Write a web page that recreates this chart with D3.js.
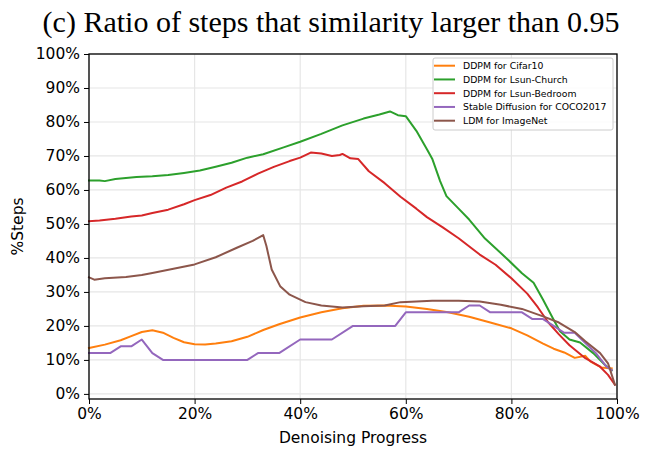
<!DOCTYPE html>
<html><head><meta charset="utf-8">
<script src="https://cdn.jsdelivr.net/npm/d3@7"></script>
<style>
body{margin:0;background:#fff;}
svg{display:block;}
</style></head>
<body>
<svg id="chart" width="648" height="460"></svg>
<script>
const titleText = "(c) Ratio of steps that similarity larger than 0.95";
const xLabel = "Denoising Progress";
const yLabel = "%Steps";
const xTicks = [0, 20, 40, 60, 80, 100];
const yTicks = [0, 10, 20, 30, 40, 50, 60, 70, 80, 90, 100];
const seriesNames = ["DDPM for Cifar10", "DDPM for Lsun-Church", "DDPM for Lsun-Bedroom", "Stable Diffusion for COCO2017", "LDM for ImageNet"];
const seriesColors = ["#ff7f0e", "#2ca02c", "#d62728", "#9467bd", "#8c564b"];

// [progress %, steps %]
const cifar10 = [[0,13.5],[3,14.5],[6,15.8],[8,17],[10,18.2],[12,18.7],[14,18],[16,16.5],[18,15.2],[20,14.6],[22,14.5],[24,14.8],[27,15.5],[30,16.8],[33,18.8],[36,20.5],[40,22.5],[44,24],[48,25.2],[52,25.9],[56,26],[60,25.7],[64,25],[68,24],[72,22.7],[76,21],[80,19.3],[83,17.2],[86,14.8],[88,13.3],[90,12.2],[92,10.6],[94,11.2],[95,9.5],[97,7.8],[99,7.5]];
const church = [[0,62.8],[2,62.8],[3,62.6],[5,63.2],[9,63.8],[12,64],[15,64.4],[18,65],[21,65.7],[24,66.8],[27,68],[30,69.5],[33,70.5],[37,72.6],[40,74.2],[44,76.5],[48,79],[52,81],[55,82.2],[57,83.1],[58.5,82],[60,81.7],[62,77.4],[64,72],[65,69.2],[66.5,62.6],[67.7,58.2],[70,54.5],[72,51.3],[75,45.7],[79,40],[82,35.5],[84.2,32.7],[86,27.7],[88,21.8],[89.2,18.4],[91,16],[93,15.1],[95.5,12],[97.7,8.6],[99,6.9]];
const bedroom = [[0,50.8],[2,51],[5,51.5],[8,52.2],[10,52.5],[12,53.2],[15,54.2],[18,55.8],[20,57],[23,58.5],[26,60.7],[29,62.5],[32,64.8],[35,66.8],[38,68.5],[40,69.5],[42,71],[44,70.7],[46,70],[47.5,70.3],[48,70.6],[49.5,69.3],[51,69.1],[53,65.5],[56,62],[59,58],[62,54.5],[64,52],[67,49],[70,45.8],[74,41],[77,38],[80,34],[83,29.5],[85,25.5],[87,21],[89,17.5],[91,14.3],[94,10.5],[96.8,8],[98.3,5.6],[99.6,2.7]];
const coco = [[0,12],[4,12],[6,14],[8,14],[10,16],[12,12],[14,10],[30,10],[32,12],[36,12],[40,16],[46,16],[50,20],[58,20],[60,24],[70,24],[72,26],[74,26],[76,24],[82,24],[84,22],[86,22],[88,20],[90,18],[92,18],[94,15],[96,12],[98,8],[99,7]];
const imagenet = [[0,34.3],[1,33.6],[3,34],[7,34.4],[10,35],[12,35.6],[16,36.8],[20,38.1],[24,40.2],[28,43],[31,45],[33,46.7],[33.6,43.5],[34.6,36.6],[36.2,31.7],[38,29.2],[41,27],[44,26],[48,25.4],[52,25.8],[56,26],[59,27],[65,27.4],[70,27.4],[74,27.2],[78,26.2],[82,25],[86,22.8],[89,21],[92,18.2],[94,15.5],[96.8,12],[98.3,9],[99.6,2.7]];
const seriesData = [cifar10, church, bedroom, coco, imagenet];

const svg = d3.select("#chart");
const m = {left: 89, right: 617, top: 54, bottom: 399};
const x = d3.scaleLinear().domain([0, 100]).range([m.left, m.right]);
const y = d3.scaleLinear().domain([-1.5, 100]).range([m.bottom, m.top]);
const font = "'DejaVu Sans', sans-serif";

// grid
const g = svg.append("g");
g.selectAll(".hg").data(yTicks).enter().append("line")
  .attr("x1", m.left).attr("x2", m.right)
  .attr("y1", d => y(d)).attr("y2", d => y(d))
  .attr("stroke", "#e6e6e6").attr("stroke-width", 1.2);
g.selectAll(".vg").data(xTicks).enter().append("line")
  .attr("y1", m.top).attr("y2", m.bottom)
  .attr("x1", d => x(d)).attr("x2", d => x(d))
  .attr("stroke", "#e6e6e6").attr("stroke-width", 1.2);

// lines
const line = d3.line().x(d => x(d[0])).y(d => y(d[1]));
seriesData.forEach((s, i) => {
  svg.append("path").datum(s).attr("d", line)
    .attr("fill", "none").attr("stroke", seriesColors[i])
    .attr("stroke-width", 2).attr("stroke-linejoin", "round").attr("stroke-linecap", "square");
});

// axes
const xAxis = d3.axisBottom(x).tickValues(xTicks).tickFormat(d => d + "%").tickSize(5).tickPadding(4);
const yAxis = d3.axisLeft(y).tickValues(yTicks).tickFormat(d => d + "%").tickSize(5).tickPadding(4);
const gx = svg.append("g").attr("transform", `translate(0,${m.bottom})`).call(xAxis);
const gy = svg.append("g").attr("transform", `translate(${m.left},0)`).call(yAxis);
[gx, gy].forEach(a => {
  a.select(".domain").remove();
  a.selectAll("line").attr("stroke", "#000").attr("stroke-width", 1);
  a.selectAll("text").attr("font-family", font).attr("font-size", 15.5).attr("fill", "#000");
});

// frame
svg.append("rect").attr("x", m.left).attr("y", m.top)
  .attr("width", m.right - m.left).attr("height", m.bottom - m.top)
  .attr("fill", "none").attr("stroke", "#000").attr("stroke-width", 1.3);

// labels
svg.append("text").attr("x", (m.left + m.right) / 2).attr("y", 443)
  .attr("text-anchor", "middle").attr("font-family", font).attr("font-size", 15.5).text(xLabel);
svg.append("text").attr("transform", `translate(23,${(m.top + m.bottom) / 2}) rotate(-90)`)
  .attr("text-anchor", "middle").attr("font-family", font).attr("font-size", 15.5).text(yLabel);
svg.append("text").attr("x", 331).attr("y", 32)
  .attr("text-anchor", "middle").attr("font-family", "'Liberation Serif', 'Times New Roman', serif")
  .attr("font-size", 30).text(titleText);

// legend
const lg = svg.append("g");
lg.append("rect").attr("x", 433).attr("y", 58).attr("width", 180).attr("height", 72)
  .attr("rx", 2).attr("fill", "#fff").attr("fill-opacity", 0.85).attr("stroke", "#cccccc").attr("stroke-width", 1);
seriesNames.forEach((n, i) => {
  const yy = 65.7 + i * 13.75;
  lg.append("line").attr("x1", 434).attr("x2", 455).attr("y1", yy).attr("y2", yy)
    .attr("stroke", seriesColors[i]).attr("stroke-width", 2);
  lg.append("text").attr("x", 463).attr("y", yy + 3.3).attr("font-family", font)
    .attr("font-size", 9.3).attr("fill", "#000").text(n);
});
</script>
</body></html>
